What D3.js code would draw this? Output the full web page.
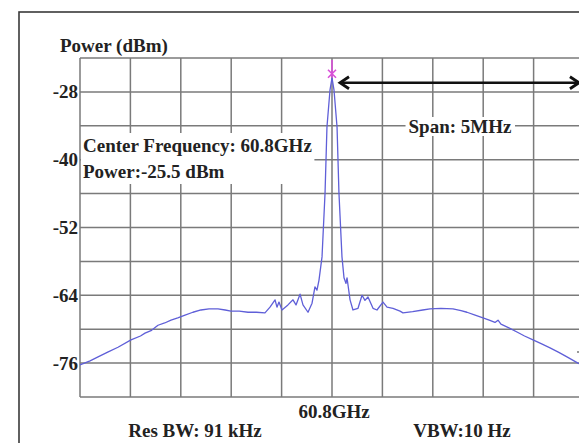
<!DOCTYPE html>
<html>
<head>
<meta charset="utf-8">
<script src="https://cdn.jsdelivr.net/npm/d3@7"></script>
<style>
  html, body { margin: 0; padding: 0; background: #fff; }
  svg { display: block; }
  text { font-family: "Liberation Serif", "Times New Roman", serif; font-weight: bold; fill: #222; }
</style>
</head>
<body>
<svg id="chart" width="579" height="443"></svg>
<script>
// ---- data ----
const freqOffsetKHz = [
  -2500, -2400, -2321, -2220, -2123, -1994, -1900, -1855, -1790, -1726, -1660, -1597, -1530, -1458, -1380,
  -1300, -1220, -1131, -1060, -1002, -920, -833, -750, -665, -615, -565, -546, -526, -496, -437, -387, -357,
  -317, -288, -238, -198, -169, -149, -129, -99, -69, -50, -20, 0,
  20, 50, 69, 99, 119, 139, 149, 179, 208, 258, 298, 327, 357, 407, 446, 506, 546, 605, 675, 704,
  800, 900, 972, 1080, 1200, 1280, 1339, 1420, 1498, 1560, 1617, 1647, 1676, 1760, 1835, 1910, 1994,
  2080, 2163, 2250, 2331, 2440, 2500
];
const powerDBm = [
  -76.3, -75.6, -74.9, -74.0, -73.2, -71.9, -71.2, -70.7, -70.2, -69.3, -68.9, -68.4, -68.0, -67.5, -67.0,
  -66.6, -66.4, -66.4, -66.6, -66.8, -66.8, -67.0, -67.0, -67.1, -66.1, -64.8, -66.1, -65.2, -66.6, -65.7, -64.8, -65.7,
  -63.8, -65.7, -67.0, -65.4, -62.5, -63.1, -61.3, -57.2, -45.9, -34.2, -27.7, -25.5,
  -27.7, -34.2, -45.9, -57.2, -60.9, -61.9, -60.9, -64.8, -66.6, -66.3, -64.0, -64.9, -64.3, -66.3, -66.6, -65.2, -66.1, -66.3, -66.8, -67.1,
  -66.9, -66.6, -66.4, -66.3, -66.4, -66.7, -67.0, -67.5, -68.0, -68.4, -68.8, -68.4, -69.1, -69.8, -70.5, -71.2, -71.9,
  -72.6, -73.3, -74.1, -74.9, -76.0, -76.5
];
const xDomainKHz = [-2500, 2500];
const yDomainDBm = [-82, -22];
const xGridKHz = [-2500, -2000, -1500, -1000, -500, 0, 500, 1000, 1500, 2000, 2500];
const yGridDBm = [-82, -76, -70, -64, -58, -52, -46, -40, -34, -28, -22];
const yTickLabels = [-28, -40, -52, -64, -76];
const peakFreqKHz = 0;
const peakPowerDBm = -25.5;
const spanEndKHz = 2450;
const yTitle = "Power (dBm)";
const centerLabel = "60.8GHz";
const infoLines = ["Center Frequency: 60.8GHz", "Power:-25.5 dBm"];
const spanLabel = "Span: 5MHz";
const resBWLabel = "Res BW: 91 kHz";
const vbwLabel = "VBW:10 Hz";

// ---- layout ----
const svg = d3.select("#chart");
const L = 80, R = 584, T = 58, B = 397;
const x = d3.scaleLinear().domain(xDomainKHz).range([L, R]);
const y = d3.scaleLinear().domain(yDomainDBm).range([B, T]);

svg.append("rect").attr("width", 579).attr("height", 443).attr("fill", "#fff");

// outer frame
svg.append("rect").attr("x", 19).attr("y", 12).attr("width", 620).attr("height", 520)
  .attr("fill", "none").attr("stroke", "#3a3a3a").attr("stroke-width", 1.6);

// grid
const grid = svg.append("g").attr("stroke", "#7a7a7a").attr("stroke-width", 1.5);
grid.selectAll("line.v").data(xGridKHz).join("line").attr("class", "v")
  .attr("x1", d => x(d)).attr("x2", d => x(d)).attr("y1", T).attr("y2", B);
grid.selectAll("line.h").data(yGridDBm).join("line").attr("class", "h")
  .attr("x1", L).attr("x2", R).attr("y1", d => y(d)).attr("y2", d => y(d));

// y tick labels
svg.selectAll("text.yt").data(yTickLabels).join("text").attr("class", "yt")
  .attr("x", 78).attr("y", d => y(d) + 6.5).attr("text-anchor", "end")
  .attr("font-size", 19).text(d => d);

// y title
svg.append("text").attr("x", 60).attr("y", 52).attr("font-size", 19).text(yTitle);

// data line
const pts = freqOffsetKHz.map((f, i) => [f, powerDBm[i]]);
const line = d3.line().x(d => x(d[0])).y(d => y(d[1]));
svg.append("path").datum(pts).attr("d", line).attr("fill", "none")
  .attr("stroke", "#5f5fd8").attr("stroke-width", 1.3).attr("stroke-linejoin", "round");

// info text block with white background
const info = svg.append("g");
const infoBg = info.append("rect").attr("fill", "#fff");
const infoText = info.selectAll("text").data(infoLines).join("text")
  .attr("x", 83).attr("y", (d, i) => 152 + i * 26).attr("font-size", 19).text(d => d);
{
  const bb = info.node().getBBox();
  infoBg.attr("x", L + 1).attr("y", bb.y - 2).attr("width", bb.x + bb.width - L + 1).attr("height", bb.height + 4);
}

// span label with background
const spanG = svg.append("g");
const spanBg = spanG.append("rect").attr("fill", "#fff");
const spanT = spanG.append("text").attr("x", 460).attr("y", 133).attr("text-anchor", "middle")
  .attr("font-size", 19).text(spanLabel);
{
  const bb = spanT.node().getBBox();
  spanBg.attr("x", bb.x - 3).attr("y", bb.y + 1).attr("width", bb.width + 6).attr("height", bb.height - 2);
}

// dashed marker line at span end
svg.append("line").attr("x1", x(spanEndKHz) + 1).attr("x2", x(spanEndKHz) + 1)
  .attr("y1", 90).attr("y2", 352).attr("stroke", "#6b7fa8").attr("stroke-width", 1.3)
  .attr("stroke-dasharray", "3,2");
svg.append("line").attr("x1", x(spanEndKHz) - 2).attr("x2", x(spanEndKHz) + 3)
  .attr("y1", 352).attr("y2", 352).attr("stroke", "#555").attr("stroke-width", 1.2);

// double arrow
const ay = y(peakPowerDBm) + 5;
const ax1 = x(peakFreqKHz) + 8, ax2 = x(spanEndKHz);
svg.append("line").attr("x1", ax1 + 2).attr("x2", ax2 - 2).attr("y1", ay).attr("y2", ay)
  .attr("stroke", "#111").attr("stroke-width", 2.6);
svg.append("path").attr("d", `M${ax1 + 9},${ay - 6} L${ax1},${ay} L${ax1 + 9},${ay + 6}`)
  .attr("fill", "none").attr("stroke", "#111").attr("stroke-width", 2.8).attr("stroke-linejoin", "miter");
svg.append("path").attr("d", `M${ax2 - 9},${ay - 6} L${ax2},${ay} L${ax2 - 9},${ay + 6}`)
  .attr("fill", "none").attr("stroke", "#111").attr("stroke-width", 2.8).attr("stroke-linejoin", "miter");

// peak marker
const px = x(peakFreqKHz), py = y(peakPowerDBm);
const mk = svg.append("g").attr("stroke", "#d94fd9").attr("stroke-width", 1.6);
mk.append("line").attr("x1", px).attr("x2", px).attr("y1", T + 2).attr("y2", py);
mk.append("line").attr("x1", px - 4).attr("x2", px + 4).attr("y1", py - 8).attr("y2", py);
mk.append("line").attr("x1", px + 4).attr("x2", px - 4).attr("y1", py - 8).attr("y2", py);

// bottom labels
svg.append("text").attr("x", x(peakFreqKHz) + 2).attr("y", 418).attr("text-anchor", "middle")
  .attr("font-size", 19).text(centerLabel);
svg.append("text").attr("x", 195).attr("y", 437).attr("text-anchor", "middle")
  .attr("font-size", 19).text(resBWLabel);
svg.append("text").attr("x", 462).attr("y", 437).attr("text-anchor", "middle")
  .attr("font-size", 19).text(vbwLabel);
</script>
</body>
</html>
